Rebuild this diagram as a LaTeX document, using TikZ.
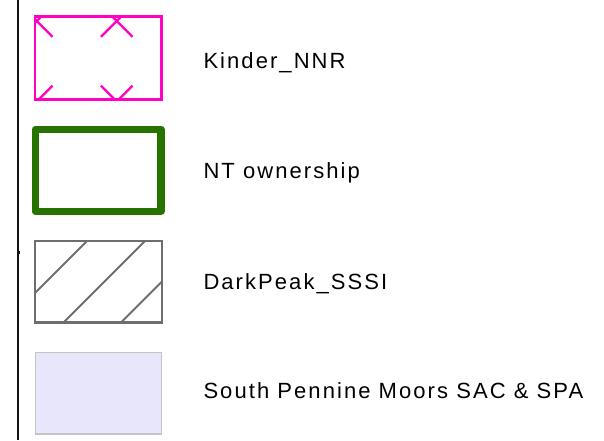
\documentclass[tikz,border=0pt]{standalone}
\usepackage{fontspec}
\setmainfont{Liberation Sans}[LetterSpace=9.4]
\definecolor{nnrpink}{HTML}{FF00C5}
\definecolor{ntgreen}{HTML}{267300}
\definecolor{sssigray}{HTML}{6E6E6E}
\definecolor{sacfill}{HTML}{E8E6FA}
\definecolor{sacedge}{HTML}{C4C4C4}
\definecolor{frameline}{HTML}{141414}
\tikzset{
  legbox/.style={rectangle, minimum width=126.5pt, minimum height=83pt,
    inner sep=0pt, outer sep=0pt},
  legtext/.style={anchor=base west, inner sep=0pt, outer sep=0pt,
    font=\fontsize{22}{26}\selectfont, text=black},
}
\begin{document}
\begin{tikzpicture}[x=1pt, y=-1pt]
\useasboundingbox (0,0) rectangle (604,440);

% frame line on the left
\coordinate (ftop) at (18,0);
\coordinate (fbot) at (18,440);
\draw[frameline, line width=2.5pt] (ftop) -- (fbot);
\coordinate (tka) at (19,250.7);
\coordinate (tkb) at (19,254.2);
\draw[frameline, line width=1.4pt] ([xshift=0.7pt]tka) -- ([xshift=0.7pt]tkb);

% Kinder NNR: outline with X marks
\node[legbox] (nnr) at (98.3,58) {};
\begin{scope}
  \clip (nnr.south west) rectangle (nnr.north east);
  \foreach \cx/\cy in {36.8/21, 116.7/21, 36.8/101.5, 116.7/101.5}
    \draw[nnrpink, line width=2.3pt]
      (\cx-15.8,\cy-15.8) -- (\cx+15.8,\cy+15.8)
      (\cx-15.8,\cy+15.8) -- (\cx+15.8,\cy-15.8);
\end{scope}
\draw[nnrpink, line width=2.3pt] (nnr.south west) rectangle (nnr.north east);
\node[legtext] (t1) at (203.5,68.3) {Kinder\_NNR};

% NT ownership: heavy green outline
\node[legbox, draw=ntgreen, line width=7.3pt, line join=round,
  minimum width=125.7pt, minimum height=82pt] (nt) at (98.2,170.3) {};
\node[legtext] (t2) at (203.5,178.3) {NT ownership};

% DarkPeak SSSI: hatched outline
\node[legbox, minimum height=81.3pt] (sssi) at (98.5,281.7) {};
\begin{scope}
  \clip (sssi.south west) rectangle (sssi.north east);
  \foreach \c in {328, 386, 443.5}
    \draw[sssigray, line width=2pt] (30,\c-30) -- (170,\c-170);
\end{scope}
\draw[sssigray, line width=2.3pt] (sssi.south west) rectangle (sssi.north east);
\node[legtext] (t3) at (203.5,289.3) {DarkPeak\_SSSI};

% South Pennine Moors: pale fill
\node[legbox, fill=sacfill, draw=sacedge, line width=1.3pt,
  minimum height=81.7pt] (sac) at (98.5,393.2) {};
\node[legtext] (t4) at (203.5,398.4) {South Pennine Moors SAC \& SPA};
\end{tikzpicture}
\end{document}
